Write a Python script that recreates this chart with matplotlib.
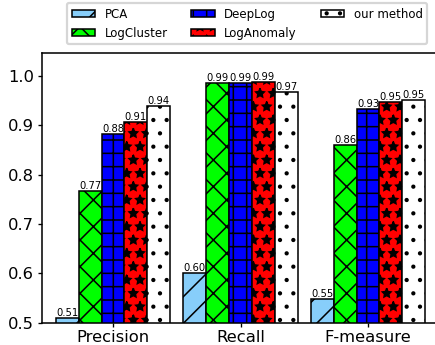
import matplotlib
matplotlib.use('Agg')
import matplotlib.pyplot as plt
import numpy as np

# metric groups and methods
metrics = ['Precision', 'Recall', 'F-measure']
methods = ['PCA', 'LogCluster', 'DeepLog', 'LogAnomaly', 'our method']

pca = [0.509, 0.600, 0.549]
logcluster = [0.766, 0.986, 0.860]
deeplog = [0.882, 0.986, 0.932]
loganomaly = [0.907, 0.988, 0.948]
ours = [0.940, 0.968, 0.952]

colors = ['lightskyblue', 'lime', 'blue', 'red', 'white']
hatches = ['//', 'xx', '++', '**', '..']

plt.rcParams['hatch.linewidth'] = 0.7

fig = plt.figure(figsize=(435 / 160, 345 / 160), dpi=160)
ax = fig.add_axes([42 / 435, 0.0646, 397 / 435, 0.7826])

x = np.arange(len(metrics))
width = 0.18
series = [pca, logcluster, deeplog, loganomaly, ours]

for i, vals in enumerate(series):
    pos = x + (i - 2) * width
    bars = ax.bar(pos, vals, width, color=colors[i], edgecolor='black',
                  hatch=hatches[i], linewidth=0.7, label=methods[i])
    for b, v in zip(bars, vals):
        ax.text(b.get_x() + b.get_width() / 2, v, '%.2f' % v,
                ha='center', va='bottom', fontsize=4.5)

ax.set_xlim(-0.557, 2.557)
ax.set_ylim(0.5, 1.047)
ax.set_xticks(x)
ax.set_xticklabels(metrics, fontsize=7.4)
ax.set_yticks([0.5, 0.6, 0.7, 0.8, 0.9, 1.0])
ax.set_yticklabels(['%.1f' % t for t in [0.5, 0.6, 0.7, 0.8, 0.9, 1.0]], fontsize=7.4)
ax.tick_params(width=0.6, length=2, pad=1.5)
for s in ax.spines.values():
    s.set_linewidth(0.7)

fig.legend(loc='upper left', bbox_to_anchor=(67 / 435, 1 - 3 / 345), ncol=3,
           fontsize=5.3, handleheight=0.5, borderaxespad=0)

fig.savefig('out.png', dpi=160)
